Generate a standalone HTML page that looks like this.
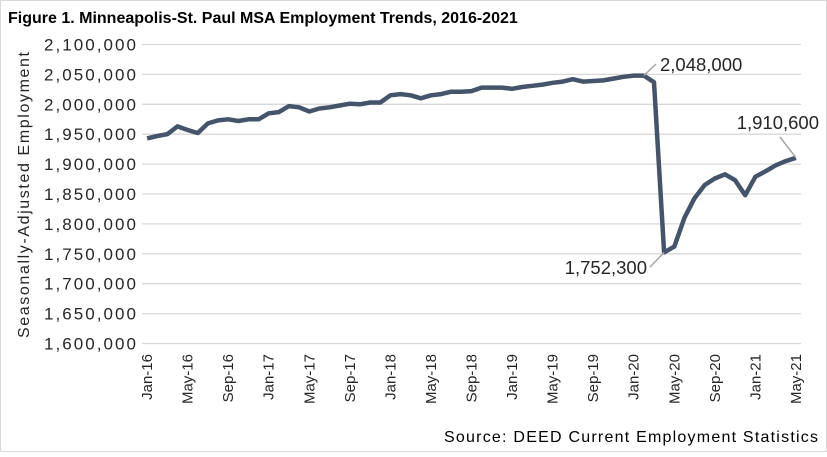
<!DOCTYPE html>
<html><head><meta charset="utf-8"><style>
body{margin:0;background:#fff}
svg text{font-family:"Liberation Sans",Arial,sans-serif;fill:#262626}
</style></head><body>
<svg width="827" height="452">
<rect x="0.5" y="0.5" width="826" height="451" fill="#fff" stroke="#d9d9d9"/>
<text x="8" y="23" font-size="16" font-weight="bold" style="fill:#000">Figure 1. Minneapolis-St. Paul MSA Employment Trends, 2016-2021</text>
<g id="grid"></g><g id="yl"></g><g id="xl"></g>
<path id="line" fill="none" stroke="#44546a" stroke-width="4.5" stroke-linejoin="round"/>
<g id="ann"></g>
<text transform="translate(29,195) rotate(-90)" text-anchor="middle" font-size="16" textLength="286">Seasonally-Adjusted Employment</text>
<text x="818" y="442" text-anchor="end" font-size="16" textLength="374" style="fill:#000">Source: DEED Current Employment Statistics</text>
</svg>
<script>
const values=[1943,1947,1950,1963,1957,1952,1968,1973,1975,1972,1975,1975,1985,1987,1997,1995,1988,1993,1995,1998,2001,2000,2003,2003,2015,2017,2015,2010,2015,2017,2021,2021,2022,2028,2028,2028,2026,2029,2031,2033,2036,2038,2042,2038,2039,2040,2043,2046,2048,2048,2037,1752.3,1762,1810,1843,1865,1876,1883,1873,1848,1879,1888,1898,1905,1910.6];
const yTicks=[1600000,1650000,1700000,1750000,1800000,1850000,1900000,1950000,2000000,2050000,2100000];
const xLabels=["Jan-16","May-16","Sep-16","Jan-17","May-17","Sep-17","Jan-18","May-18","Sep-18","Jan-19","May-19","Sep-19","Jan-20","May-20","Sep-20","Jan-21","May-21"];
const annotations=[{i:49,text:"2,048,000",lx:656,ly:64,tx:660,ty:71,anchor:"start"},{i:51,text:"1,752,300",lx:650,ly:267,tx:647,ty:274,anchor:"end"},{i:64,text:"1,910,600",lx:780,ly:137,tx:819,ty:129,anchor:"end"}];
const NS="http://www.w3.org/2000/svg";
const L=142,R=801,T=44.5,B=343.5,n=values.length,step=(R-L)/n;
const x=i=>L+step*(i+0.5);
const y=v=>B-(v-1600000)/500000*(B-T);
function mk(t,a,p){const e=document.createElementNS(NS,t);for(const k in a)e.setAttribute(k,a[k]);document.getElementById(p).appendChild(e);return e;}
yTicks.forEach(v=>{
 const g=mk("line",{x1:L,x2:R,y1:y(v),y2:y(v),stroke:"#d9d9d9","stroke-width":1.3},"grid");
 
 
 const t=mk("text",{x:136,y:y(v)+6,"text-anchor":"end","font-size":17,textLength:92},"yl");
 t.textContent=v.toLocaleString("en-US");
 
 
});
xLabels.forEach((s,k)=>{
 const xi=x(k*4);
 const t=mk("text",{transform:`translate(${xi+5},354) rotate(-90)`,"text-anchor":"end","font-size":15},"xl");
 t.textContent=s;
 
 
});
document.getElementById("line").setAttribute("d",values.map((v,i)=>(i?"L":"M")+x(i).toFixed(1)+","+y(v*1000).toFixed(1)).join(""));
annotations.forEach(a=>{
 const px=x(a.i),py=y(values[a.i]*1000);
 const l=mk("polyline",{points:`${px},${py} ${a.lx},${a.ly}`,fill:"none",stroke:"#a6a6a6","stroke-width":1.5},"ann");
 
 
 const t=mk("text",{x:a.tx,y:a.ty,"text-anchor":a.anchor,"font-size":18.5},"ann");
 t.textContent=a.text;
 
 
});
</script>
</body></html>
